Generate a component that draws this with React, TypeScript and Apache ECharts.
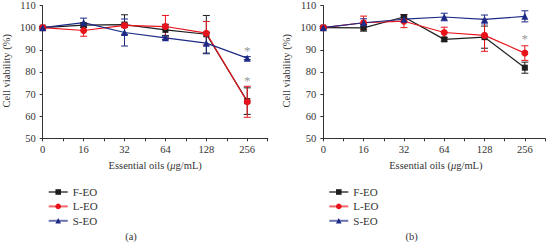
import React, { useEffect, useRef } from "react";
import * as echarts from "echarts";

const categories = ["0", "16", "32", "64", "128", "256"];
const seriesNames = ["F-EO", "L-EO", "S-EO"];
const colors = ["#1e1e1e", "#e8141c", "#1c2a85"];
const symbols = ["rect", "circle", "triangle"];
const symbolSizes = [6, 7, 7];
const yTitle = "Cell viability (%)";
const panelLabels = ["(a)", "(b)"];

// Panel (a)
const aF = [100, 101.1, 101.4, 99, 97, 66.8];
const aFerr = [0.5, 1, 4.4, 2.5, 8.5, 6];
const aL = [100, 98.7, 101, 100.5, 97.5, 66.5];
const aLerr = [0.5, 2.6, 1, 5, 5.3, 7];
const aS = [100, 102.3, 97.8, 95.4, 93, 86.2];
const aSerr = [0.5, 2, 6.1, 0.7, 4.8, 0.7];
const aStars = [[5, 89.6], [5, 76]];

// Panel (b)
const bF = [100, 99.9, 104.8, 94.7, 95.7, 81.9];
const bFerr = [0.5, 1.5, 1, 0.8, 5, 2.5];
const bL = [100, 102.2, 102.9, 97.8, 96.5, 88.5];
const bLerr = [0.5, 3, 2.9, 2.4, 7.2, 3.3];
const bS = [100, 102.2, 103.8, 104.8, 103.7, 105.1];
const bSerr = [0.5, 1.8, 1, 1.7, 2, 2.5];
const bStars = [[5, 95]];

const FONT = '"Liberation Serif", "DejaVu Serif", serif';
const TEXT = "#333";
const STAR = "#7a7a7a";
const FS = 10.5;

export default function App() {
  const ref = useRef<HTMLDivElement>(null);
  useEffect(() => {
    if (!ref.current) return;
    document.body.style.margin = "0";
    const chart = echarts.init(ref.current, undefined, { renderer: "svg" });

    const GW = 225;
    const GT = 3.3;
    const GH = 135;
    const panels = [
      { vals: [aF, aL, aS], errs: [aFerr, aLerr, aSerr], stars: aStars, left: 42.7 },
      { vals: [bF, bL, bS], errs: [bFerr, bLerr, bSerr], stars: bStars, left: 323.3 },
    ];

    const grid = panels.map((p) => ({ left: p.left, top: GT, width: GW, height: GH }));
    const xAxis = panels.map((_, i) => ({
      type: "value",
      gridIndex: i,
      min: 0,
      max: 5.5,
      interval: 0.5,
      axisLine: { lineStyle: { color: "#333", width: 1 } },
      axisTick: { length: 3, lineStyle: { color: "#333" } },
      axisLabel: {
        fontFamily: FONT,
        fontSize: FS,
        color: TEXT,
        margin: 6,
        formatter: (v: number) => (Number.isInteger(v) && v < categories.length ? categories[v] : ""),
      },
      splitLine: { show: false },
    }));

    const yAxis = panels.map((p, i) => ({
      type: "value",
      gridIndex: i,
      min: 50,
      max: 110,
      interval: 10,
      axisLine: { show: true, lineStyle: { color: "#333", width: 1 } },
      axisTick: { show: true, length: 3, lineStyle: { color: "#333" } },
      axisLabel: { fontFamily: FONT, fontSize: FS, color: TEXT, margin: 7 },
      splitLine: { show: false },
    }));

    const series: any[] = [];
    panels.forEach((p, pi) => {
      p.vals.forEach((vals, si) => {
        const errData = vals.map((v, k) => [k, v, p.errs[si][k]]);
        series.push({
          type: "custom",
          name: "err-" + pi + "-" + si,
          xAxisIndex: pi,
          yAxisIndex: pi,
          z: 2,
          encode: { x: 0, y: 1 },
          data: errData,
          renderItem: (params: any, api: any) => {
            const x = api.value(0);
            const y = api.value(1);
            const e = api.value(2);
            const top = api.coord([x, y + e]);
            const bot = api.coord([x, y - e]);
            const h = 3.5;
            const st = { stroke: colors[si], lineWidth: 1 };
            return {
              type: "group",
              children: [
                { type: "line", shape: { x1: top[0], y1: top[1], x2: bot[0], y2: bot[1] }, style: st },
                { type: "line", shape: { x1: top[0] - h, y1: top[1], x2: top[0] + h, y2: top[1] }, style: st },
                { type: "line", shape: { x1: bot[0] - h, y1: bot[1], x2: bot[0] + h, y2: bot[1] }, style: st },
              ],
            };
          },
        });
        series.push({
          type: "line",
          name: seriesNames[si],
          xAxisIndex: pi,
          yAxisIndex: pi,
          z: 3,
          data: vals.map((v, k) => [k, v]),
          symbol: symbols[si],
          symbolSize: symbolSizes[si],
          showAllSymbol: true,
          lineStyle: { color: colors[si], width: 1.2 },
          itemStyle: { color: colors[si] },
        });
      });
      series.push({
        type: "scatter",
        name: "stars-" + pi,
        xAxisIndex: pi,
        yAxisIndex: pi,
        z: 4,
        symbolSize: 0,
        itemStyle: { color: STAR },
        data: p.stars,
        label: {
          show: true,
          formatter: "*",
          position: "inside",
          color: STAR,
          textBorderWidth: 0,
          fontFamily: FONT,
          fontSize: 13,
        },
      });
    });

    const legend = panels.map((p) => ({
      data: seriesNames,
      orient: "vertical",
      left: p.left,
      top: 181.5,
      itemWidth: 19,
      itemHeight: 7,
      itemGap: 3.4,
      lineStyle: { opacity: 0.65 },
      textStyle: { fontFamily: FONT, fontSize: 11, color: TEXT },
    }));

    const graphic: any[] = [];
    panels.forEach((p, pi) => {
      graphic.push({
        type: "text",
        x: p.left + GW / 2,
        y: 165.7,
        style: {
          text: "{n|Essential oils (}{it|μ}{n|g/mL)}",
          align: "center",
          verticalAlign: "middle",
          rich: {
            n: { fontFamily: FONT, fontSize: FS, fill: TEXT },
            it: { fontFamily: FONT, fontSize: FS, fontStyle: "italic", fill: TEXT },
          },
        },
      });
      graphic.push({
        type: "text",
        x: p.left - 36.7,
        y: GT + GH / 2,
        rotation: Math.PI / 2,
        style: {
          text: yTitle,
          fontFamily: FONT,
          fontSize: FS,
          fill: TEXT,
          align: "center",
          verticalAlign: "middle",
        },
      });
      graphic.push({
        type: "text",
        x: p.left + 88.3,
        y: 236.8,
        style: {
          text: panelLabels[pi],
          fontFamily: FONT,
          fontSize: FS,
          fill: TEXT,
          align: "center",
          verticalAlign: "middle",
        },
      });
    });

    chart.setOption({
      animation: false,
      backgroundColor: "#fff",
      grid,
      xAxis,
      yAxis,
      legend,
      series,
      graphic,
    });
    return () => {
      chart.dispose();
    };
  }, []);

  return <div ref={ref} style={{ width: 548, height: 243 }} />;
}
